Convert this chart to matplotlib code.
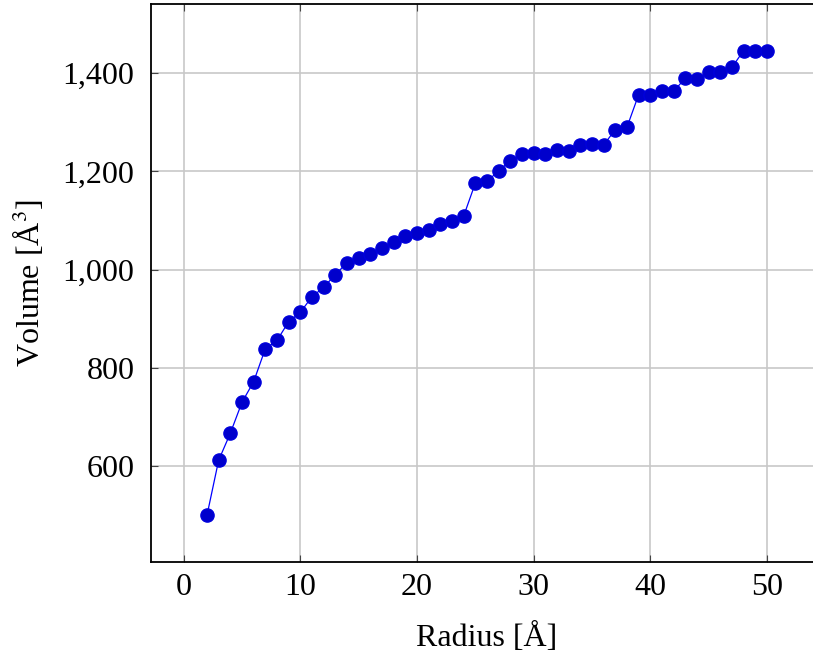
import matplotlib
matplotlib.use("Agg")
import matplotlib.pyplot as plt
from matplotlib.ticker import FuncFormatter, MultipleLocator

# radius in angstrom, volume in cubic angstrom
radius = list(range(2, 51))
volume = [500, 612, 667, 730, 772, 839, 856, 894, 913, 945,
          964, 990, 1014, 1024, 1033, 1045, 1056, 1069, 1075, 1081,
          1094, 1099, 1109, 1176, 1180, 1201, 1222, 1236, 1237, 1236,
          1243, 1241, 1254, 1255, 1254, 1285, 1290, 1356, 1355, 1363,
          1363, 1390, 1389, 1403, 1403, 1412, 1446, 1446, 1446]

plt.rcParams["font.family"] = ["Liberation Serif", "DejaVu Serif"]
plt.rcParams["mathtext.fontset"] = "stix"

fig = plt.figure(figsize=(8.13, 6.65), dpi=100)
# the right edge of the axes runs past the figure, like the cropped original
ax = fig.add_axes([0.1857, 0.1549, 0.8265, 0.8391])

ax.plot(radius, volume, color="blue", linewidth=0.9, marker="o",
        markersize=9.5, markerfacecolor="#0000cc", markeredgecolor="#0000dd",
        zorder=3)

ax.set_xlim(-2.8, 54.8)
ax.set_ylim(405, 1541)
ax.xaxis.set_major_locator(MultipleLocator(10))
ax.yaxis.set_major_locator(MultipleLocator(200))
ax.yaxis.set_major_formatter(FuncFormatter(lambda v, p: f"{v:,.0f}"))

ax.grid(True, color="#c8c8c8", linewidth=1.2)
ax.set_axisbelow(True)
for s in ax.spines.values():
    s.set_linewidth(1.3)
ax.tick_params(direction="in", length=5, width=0.8, color="#444444",
               top=True, right=True, labelsize=23)
ax.tick_params(axis="y", pad=12)
ax.tick_params(axis="x", pad=8)

ax.set_xlabel("Radius [Å]", fontsize=23, labelpad=15)
ax.set_ylabel("Volume [Å$^3$]", fontsize=23, labelpad=12)

fig.savefig("out.png", dpi=100)
